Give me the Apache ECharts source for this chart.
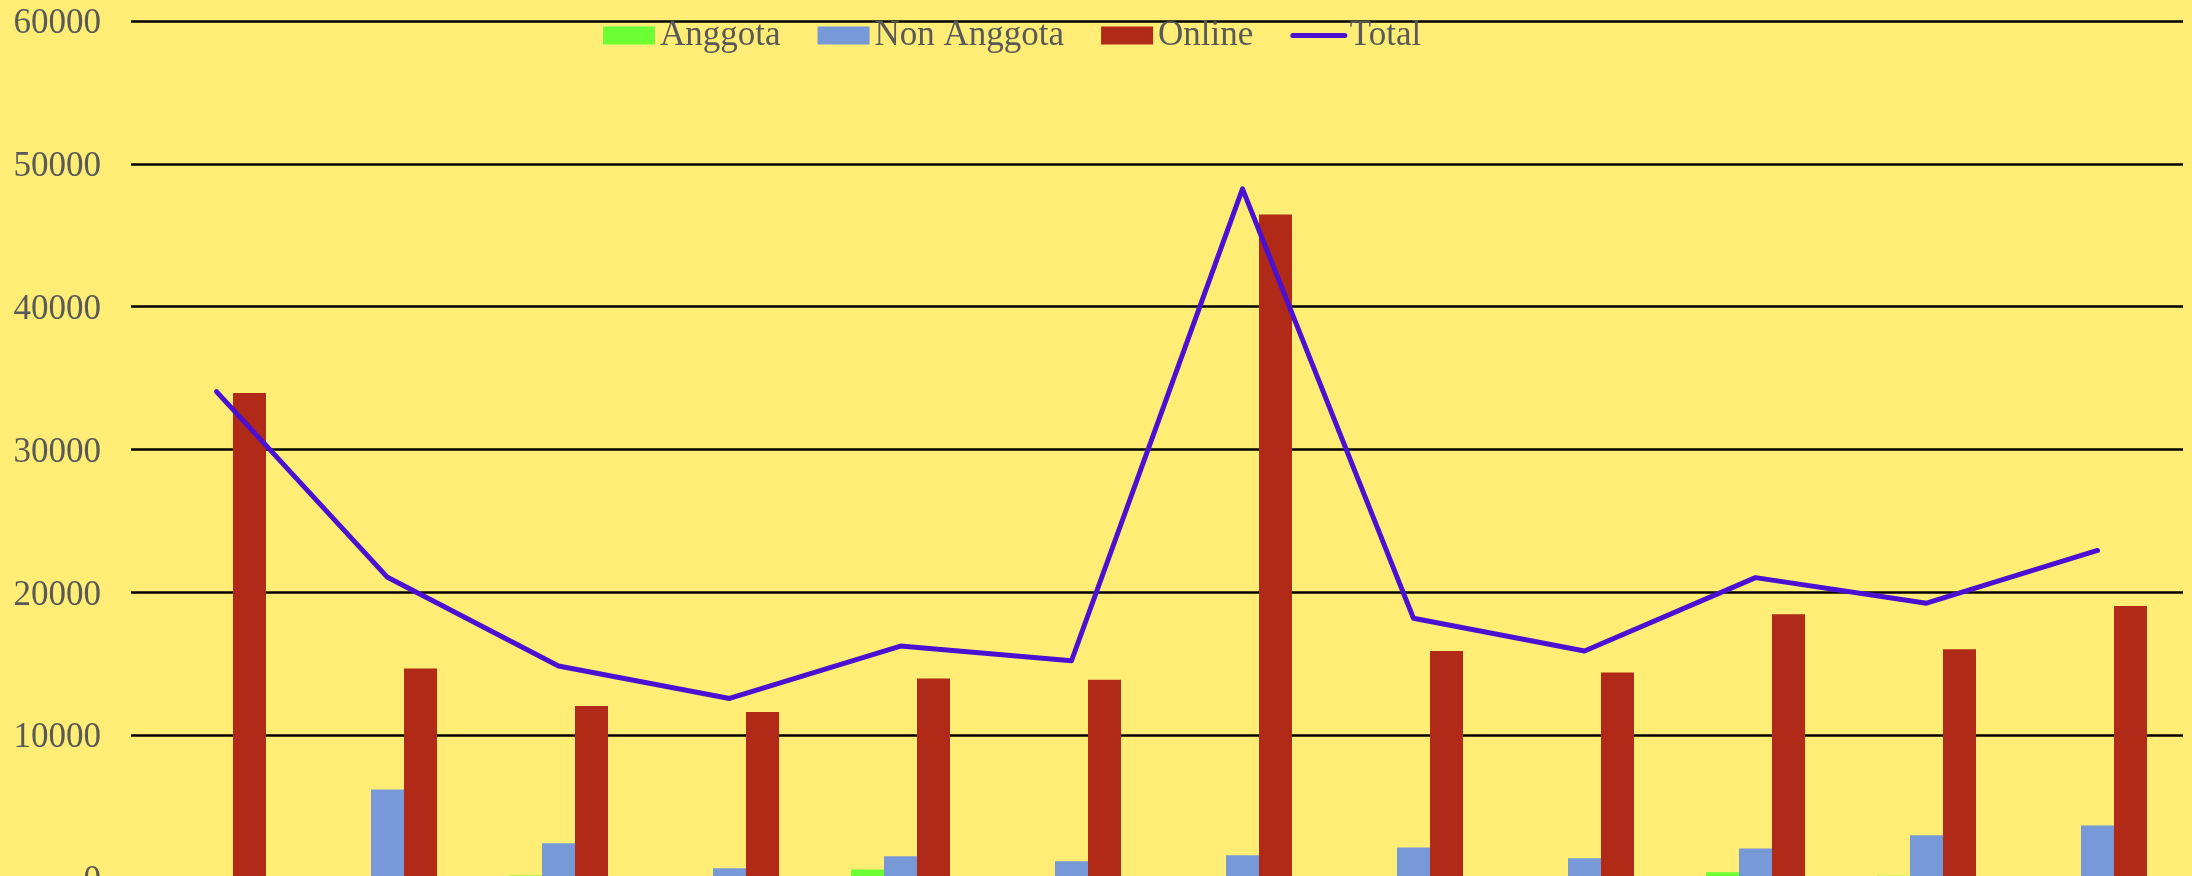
<!DOCTYPE html>
<html>
<head>
<meta charset="utf-8">
<script src="https://cdn.jsdelivr.net/npm/echarts@6/dist/echarts.min.js"></script>
<style>
  html, body { margin: 0; padding: 0; background: #FFED75; }
  #main { width: 2192px; height: 876px; }
</style>
</head>
<body>
<div id="main"></div>
<script>
// data
var bulan = ['Januari', 'Februari', 'Maret', 'April', 'Mei', 'Juni',
  'Juli', 'Agustus', 'September', 'Oktober', 'November', 'Desember']
var anggota = [0, 0, 180, 60, 600, 0, 0, 0, 0, 400, 150, 0]
var nonAnggota = [0, 6200, 2430, 680, 1520, 1170, 1590, 2130, 1380, 2060, 2990, 3670]
var online = [33950, 14670, 12050, 11630, 13970, 13880, 46450, 15890, 14390, 18470, 16020, 19050]
var total = [34050, 21050, 14840, 12570, 16240, 15210, 48250, 18180, 15890, 21030, 19240, 22930]
var yTicks = [0, 10000, 20000, 30000, 40000, 50000, 60000]

var font = 'Liberation Serif'
var textColor = '#595959'

var myChart = echarts.init(document.getElementById('main'))
var option = {
  backgroundColor: '#FFED75',
  animation: false,
  textStyle: { fontFamily: font },
  legend: {
    left: 603,
    top: 18,
    padding: 0,
    itemWidth: 52,
    itemHeight: 18,
    itemGap: 37,
    textStyle: { fontFamily: font, fontSize: 35, color: textColor },
    data: [
      { name: 'Anggota', icon: 'rect' },
      { name: 'Non Anggota', icon: 'rect' },
      { name: 'Online', icon: 'rect' },
      // garis saja, tanpa titik
      { name: 'Total', itemStyle: { opacity: 0 }, lineStyle: { width: 5, cap: 'round' } }
    ]
  },
  grid: {
    left: 131,
    right: 9,
    top: 21,
    bottom: -2,
    outerBoundsMode: 'none',
    containLabel: false
  },
  xAxis: {
    type: 'category',
    data: bulan,
    axisLine: { show: false },
    axisTick: { show: false },
    axisLabel: { show: false }
  },
  yAxis: {
    type: 'value',
    min: yTicks[0],
    max: yTicks[yTicks.length - 1],
    interval: 10000,
    axisLine: { show: false },
    axisTick: { show: false },
    axisLabel: {
      fontFamily: font,
      fontSize: 35,
      color: textColor,
      margin: 30,
      // angka sedikit turun supaya sejajar dengan garis
      formatter: function (v) { return '{n|' + v + '}' },
      rich: {
        n: { fontFamily: font, fontSize: 35, color: textColor, padding: [6, 0, 0, 0] }
      }
    },
    splitLine: { lineStyle: { color: '#000', width: 2.5 } }
  },
  series: [
    {
      name: 'Anggota',
      type: 'bar',
      barWidth: 33,
      barGap: '0%',
      itemStyle: { color: '#6CFF33' },
      data: anggota
    },
    {
      name: 'Non Anggota',
      type: 'bar',
      barWidth: 33,
      barGap: '0%',
      itemStyle: { color: '#7799D8' },
      data: nonAnggota
    },
    {
      name: 'Online',
      type: 'bar',
      barWidth: 33,
      barGap: '0%',
      itemStyle: { color: '#B02A17' },
      data: online
    },
    {
      name: 'Total',
      type: 'line',
      symbol: 'none',
      z: 5,
      lineStyle: { color: '#4B10D2', width: 5, cap: 'round', join: 'round' },
      itemStyle: { color: '#4B10D2' },
      data: total
    }
  ]
}
myChart.setOption(option)
</script>
</body>
</html>
